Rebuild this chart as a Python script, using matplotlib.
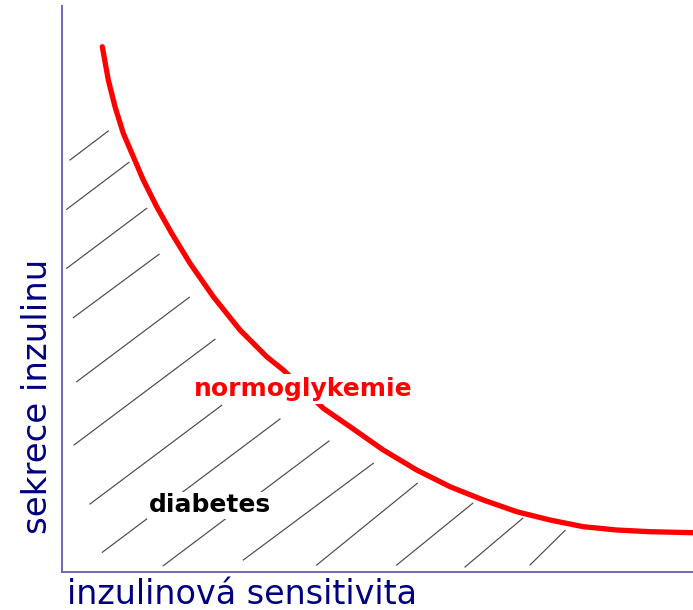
import matplotlib.pyplot as plt

# red curve (x = sensitivity, y = secretion)
curve_x = [40.3, 46.3, 53, 61.3, 71.3, 81.3, 94.7, 109.7, 128, 151.3, 178, 204.7, 221.3,
           261.3, 288, 321.3, 354.7, 388, 421.3, 454.7, 488, 521.3, 554.7, 588, 631]
curve_y = [525.3, 492, 465.3, 438.7, 415.3, 392, 365.3, 338.7, 308.7, 275.3, 242, 215.3, 202,
           163.7, 145.3, 122, 102, 85.3, 72, 60.3, 52, 45.3, 42, 40.3, 39.3]

# hatch segments under the curve
hatch_x0 = [8, 4.7, 4.7, 11.3, 14.7, 12, 28, 40.3, 101.3, 181.3, 254.7, 334.7, 403, 468]
hatch_y0 = [412, 362.7, 303.7, 254.3, 190.3, 127, 68, 19.7, 6.3, 12, 7, 7, 5, 7]
hatch_x1 = [46.3, 67, 84.7, 97, 127.3, 153, 159.7, 218, 267, 311.3, 355.3, 410.7, 460.7, 503]
hatch_y1 = [441, 409.7, 363.7, 317.7, 274.7, 232.7, 166.7, 153, 131, 108.7, 88.7, 68.7, 53.7, 41.5]

label_normo = 'normoglykemie'
label_diab = 'diabetes'
xlabel = 'inzulinová sensitivita'
ylabel = 'sekrece inzulinu'

fig = plt.figure(figsize=(6.93, 6.10), dpi=100)
ax = fig.add_axes([62 / 693, 38 / 610, 631 / 693, 566 / 610])
ax.set_xlim(0, 631)
ax.set_ylim(0, 566)

for s in ['top', 'right']:
    ax.spines[s].set_visible(False)
for s in ['left', 'bottom']:
    ax.spines[s].set_color('#6a6ab4')
    ax.spines[s].set_linewidth(1.4)
ax.set_xticks([])
ax.set_yticks([])

for x0, y0, x1, y1 in zip(hatch_x0, hatch_y0, hatch_x1, hatch_y1):
    ax.plot([x0, x1], [y0, y1], color='#4a4a4a', lw=0.85, zorder=1)

ax.plot(curve_x, curve_y, color='#ff0000', lw=3.8, solid_capstyle='round',
        solid_joinstyle='round', zorder=2, clip_on=False)

ax.text(241, 183, label_normo, color='#ff0000', fontsize=18, fontweight='bold',
        ha='center', va='center', zorder=3,
        bbox=dict(facecolor='white', edgecolor='none', pad=2))
ax.text(148, 67, label_diab, color='black', fontsize=18, fontweight='bold',
        ha='center', va='center', zorder=3,
        bbox=dict(facecolor='white', edgecolor='none', pad=1))

fig.text(242 / 693, 6 / 610, xlabel, color='#000080', fontsize=24, ha='center', va='baseline')
fig.text(38 / 693, 1 - 396 / 610, ylabel, color='#000080', fontsize=24.5, rotation=90,
         ha='center', va='center')

fig.savefig('out.png', dpi=100)
